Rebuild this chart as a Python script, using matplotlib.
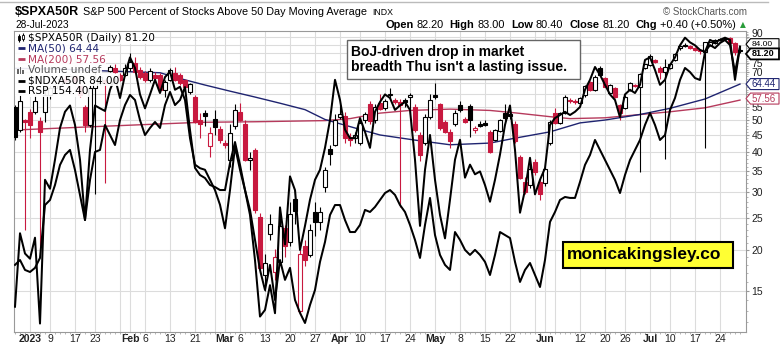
import pandas as pd
import matplotlib
matplotlib.use('Agg')
from matplotlib import pyplot as plt
from matplotlib.patches import Rectangle, Polygon
import matplotlib.ticker as ticker

plt.rcParams['font.family'] = ['Liberation Sans', 'DejaVu Sans']

W, H = 783, 347
RED = '#c8193f'
NAVY = '#1f2470'
MAROON = '#b63a5c'
GRID = '#dcdcdc'

# trading days 28-Dec-2022 .. 28-Jul-2023
holidays = ['2023-01-02', '2023-01-16', '2023-02-20', '2023-04-07',
            '2023-05-29', '2023-06-19', '2023-07-04']

# $SPXA50R daily candles
spx_open = [55.0, 46.7, 50.0, 53.0, 53.0, 49.7, 53.0, 59.6, 62.5, 64.0, 67.0, 66.0, 68.0, 63.9, 55.0, 48.3, 62.6, 64.7, 66.4, 70.9, 72.0, 68.6, 68.6,
            72.0, 74.6, 71.2, 69.5, 66.4, 68.6, 68.6, 61.9, 66.4, 69.5, 68.6, 66.4, 61.0, 59.0, 50.0, 52.4, 41.5, 50.2, 46.9, 42.5,
            37.8, 47.8, 53.0, 48.5, 37.8, 40.5, 25.3, 16.8, 22.3, 17.1, 18.4, 23.3, 21.1, 28.6, 13.0, 20.6, 19.3, 26.2, 24.3, 31.2,
            40.7, 42.0, 51.2, 51.5, 44.5, 44.0, 42.5, 50.0, 56.0, 50.0, 56.5, 54.3, 59.6, 57.6, 56.8, 57.6, 58.8, 55.0, 45.0, 42.5,
            51.2, 59.6, 55.8, 49.4, 46.1, 48.6, 55.6, 50.3, 55.3, 46.5, 48.5, 48.9, 46.1, 43.5, 46.4, 52.4, 52.0, 48.5, 38.5, 32.3,
            31.6, 37.3, 32.3, 32.0, 42.5, 52.4, 48.9, 52.4, 57.6, 57.3, 56.3, 59.6, 65.5, 61.9, 72.0, 67.1, 60.4, 62.6, 55.6, 54.3,
            61.9, 63.5, 63.2, 72.0, 73.7, 76.4, 72.4, 70.3, 72.0, 76.4, 83.0, 85.0, 84.0, 83.0, 82.0, 81.0, 85.0, 86.0, 88.5, 88.5,
            89.4, 86.0, 82.2]
spx_high = [55.5, 59.6, 50.5, 54.0, 59.6, 51.0, 63.0, 64.0, 65.0, 68.0, 68.5, 69.0, 68.5, 65.0, 55.6, 64.0, 70.0, 69.0, 67.0, 73.5, 74.5, 69.5, 74.0,
            80.0, 78.0, 72.5, 70.5, 72.0, 70.0, 69.5, 66.5, 72.0, 72.5, 69.5, 67.0, 65.0, 59.5, 52.5, 53.7, 47.5, 53.5, 48.0, 43.5,
            48.5, 56.0, 56.5, 50.0, 40.0, 41.0, 26.0, 19.5, 25.8, 20.1, 26.0, 23.8, 28.0, 30.5, 20.0, 21.5, 24.0, 28.0, 27.0, 36.0,
            42.0, 52.0, 55.5, 53.0, 45.5, 46.0, 50.0, 53.0, 57.0, 56.0, 60.0, 58.0, 62.5, 58.5, 58.0, 58.5, 60.5, 56.0, 46.0, 52.0,
            60.0, 64.9, 56.5, 50.0, 47.0, 53.5, 57.0, 51.0, 55.8, 48.0, 49.5, 50.0, 46.5, 47.0, 50.5, 56.0, 53.0, 49.5, 39.0, 33.5,
            37.0, 38.0, 33.0, 36.0, 50.0, 54.3, 53.0, 59.5, 58.5, 58.0, 59.0, 64.0, 66.0, 68.5, 73.0, 67.5, 64.5, 63.0, 56.0, 59.5,
            65.5, 64.5, 69.5, 74.5, 79.6, 77.0, 73.0, 77.0, 74.5, 80.0, 84.5, 86.0, 85.0, 83.5, 82.5, 87.0, 87.0, 88.5, 89.0, 89.5,
            89.8, 87.0, 83.0]
spx_low = [43.5, 46.0, 23.0, 44.0, 52.0, 19.5, 49.4, 58.0, 61.0, 63.0, 65.0, 65.5, 64.5, 59.0, 46.0, 47.5, 29.7, 64.0, 32.0, 70.0, 69.5, 66.0, 68.0,
           70.5, 70.0, 67.0, 65.5, 65.5, 66.5, 61.5, 59.0, 66.0, 66.0, 64.0, 62.5, 60.0, 49.0, 44.0, 48.0, 38.5, 45.0, 42.5, 41.0,
           36.0, 47.0, 49.5, 37.5, 35.2, 26.0, 17.0, 15.0, 21.5, 16.2, 18.0, 19.0, 20.5, 24.0, 12.7, 17.8, 19.0, 22.0, 23.0, 30.0,
           36.5, 41.5, 50.5, 42.5, 41.5, 42.5, 42.0, 49.0, 48.5, 49.0, 53.5, 53.5, 58.0, 56.0, 27.0, 55.0, 52.0, 46.0, 37.5, 42.0,
           50.5, 58.0, 46.5, 45.5, 41.0, 48.0, 53.0, 49.0, 44.4, 45.5, 47.5, 48.0, 39.5, 43.0, 46.0, 50.0, 50.5, 42.5, 33.0, 29.7,
           31.0, 34.0, 28.5, 31.5, 42.0, 48.5, 48.5, 52.0, 56.5, 56.0, 56.0, 59.0, 61.5, 61.5, 68.0, 63.0, 60.0, 58.5, 50.0, 54.0,
           61.5, 63.0, 34.6, 71.5, 73.0, 75.0, 67.0, 38.0, 71.5, 76.0, 82.0, 83.5, 82.5, 81.5, 79.6, 41.0, 84.5, 85.5, 87.5, 88.0,
           85.5, 79.0, 80.4]
spx_close = [44.5, 57.0, 49.4, 48.3, 57.0, 46.1, 59.6, 62.5, 64.0, 67.0, 66.0, 68.0, 66.0, 59.6, 48.3, 62.6, 66.4, 67.7, 64.7, 72.9, 70.3, 66.4, 72.0,
             75.5, 70.3, 67.7, 66.4, 70.9, 67.1, 61.9, 65.5, 71.2, 66.4, 64.7, 63.2, 64.5, 49.4, 48.5, 51.3, 45.6, 47.6, 43.5, 42.0,
             45.6, 53.7, 50.0, 37.8, 38.3, 26.5, 17.6, 18.2, 24.0, 19.0, 23.7, 20.5, 25.8, 26.4, 19.5, 18.6, 23.0, 24.4, 26.1, 35.2,
             39.4, 50.0, 52.0, 44.0, 43.5, 45.0, 49.0, 52.0, 49.5, 55.0, 54.0, 57.2, 60.0, 56.8, 55.5, 56.8, 59.8, 46.7, 39.0, 51.2,
             57.7, 58.8, 47.2, 46.1, 43.0, 52.7, 53.5, 49.4, 50.0, 47.2, 48.1, 48.4, 40.0, 46.7, 50.0, 50.6, 51.3, 43.0, 33.2, 30.1,
             35.4, 34.6, 29.7, 35.4, 49.4, 48.9, 52.4, 58.8, 57.0, 56.8, 58.6, 63.5, 61.9, 67.9, 68.5, 63.2, 63.9, 58.8, 52.4, 58.8,
             64.7, 63.9, 69.1, 74.2, 78.3, 75.5, 70.3, 72.9, 74.2, 79.6, 84.0, 84.0, 83.0, 82.0, 81.1, 86.5, 86.6, 88.0, 88.0, 89.2,
             86.0, 80.8, 81.2]

# $NDXA50R close (same scale)
ndx_close = [13.4, 22.5, 19.5, 18.8, 21.8, 11.9, 32.8, 30.8, 37.8, 47.3, 53.0, 55.4, 48.3, 37.8, 24.7, 40.5, 55.4, 54.3, 53.3, 61.9, 67.3, 58.4, 68.8,
             77.8, 72.2, 59.9, 54.3, 59.9, 66.4, 60.5, 67.7, 70.3, 61.9, 63.2, 57.6, 44.0, 36.5, 35.6, 35.2, 32.8, 30.5, 27.5, 23.3,
             30.5, 41.4, 35.2, 30.5, 25.6, 18.6, 12.5, 13.1, 15.6, 12.8, 27.0, 20.8, 33.6, 30.5, 20.0, 23.7, 28.5, 32.8, 35.2, 41.1,
             50.0, 66.4, 57.6, 46.7, 44.0, 44.0, 50.7, 46.0, 41.1, 53.0, 56.8, 59.9, 58.4, 53.7, 55.4, 56.8, 53.7, 37.8, 23.7, 35.2,
             45.0, 32.8, 25.6, 21.7, 28.5, 37.8, 43.5, 33.3, 36.5, 34.1, 34.8, 31.6, 28.1, 32.8, 39.2, 48.3, 55.4, 40.5, 26.0, 30.5,
             38.3, 29.6, 32.8, 35.6, 48.3, 50.7, 51.8, 53.0, 51.8, 53.0, 54.8, 61.9, 66.4, 72.7, 68.8, 64.1, 59.9, 57.6, 51.0, 59.9,
             61.9, 60.5, 64.1, 76.4, 77.8, 71.2, 64.1, 66.4, 73.7, 77.8, 84.7, 89.4, 86.5, 84.7, 82.0, 80.9, 88.0, 86.5, 88.0, 89.4,
             88.0, 66.4, 84.0]

# RSP close (own overlay scale)
rsp_close = [140.63, 140.94, 140.31, 140.18, 140.44, 141.07, 144.42, 144.74, 145.69, 146.96, 147.59, 147.91, 146.64, 145.06, 143.47, 146.01, 147.78, 147.91, 149.49, 148.85, 148.22, 149.80, 150.75,
             151.39, 151.07, 149.80, 148.85, 149.30, 149.68, 149.30, 150.75, 151.58, 150.75, 151.07, 151.89, 149.17, 146.77, 146.32, 146.13, 145.69, 145.56, 145.37, 145.37,
             147.08, 148.41, 146.96, 145.37, 144.11, 142.21, 140.31, 139.04, 140.63, 138.41, 140.94, 139.68, 140.44, 138.41, 137.59, 136.95, 138.09, 139.04, 140.82, 142.08,
             143.79, 144.42, 144.42, 143.47, 142.71, 142.71, 143.16, 144.11, 143.98, 144.30, 144.74, 145.18, 145.37, 145.06, 144.42, 143.98, 143.16, 142.21, 141.07, 143.16,
             144.87, 142.52, 141.26, 140.63, 140.31, 142.71, 142.21, 141.58, 141.26, 141.58, 141.26, 140.82, 139.99, 141.26, 142.71, 142.52, 142.33, 140.82, 139.55, 140.31,
             140.75, 139.99, 139.23, 140.94, 143.35, 143.98, 144.74, 144.93, 144.87, 144.87, 145.88, 146.96, 147.59, 148.54, 147.91, 147.27, 146.64, 146.01, 145.18, 146.32,
             147.27, 147.91, 148.54, 149.49, 150.25, 149.49, 148.54, 148.85, 150.44, 151.20, 152.34, 153.10, 152.84, 152.46, 152.34, 154.11, 154.55, 154.36, 154.68, 154.87,
             154.55, 152.84, 154.40]

# moving averages (day number from 28-Dec)
ma50_day = [0, 10, 17, 29, 33, 38, 43, 48, 53, 58, 62, 65, 69, 73, 80, 87, 95, 100, 107, 113, 118, 125, 131, 138, 145]
ma50 = [72.0, 71.5, 70.8, 69.8, 67.0, 64.0, 61.3, 58.8, 56.3, 53.8, 50.2, 48.7, 46.8, 45.0, 43.4, 42.0, 42.5, 44.0,
        46.0, 49.0, 50.0, 52.0, 54.3, 58.0, 64.44]
ma200_day = [0, 17, 37, 48, 55, 62, 67, 73, 79, 87, 95, 100, 107, 111, 118, 124, 131, 138, 145]
ma200 = [46.6, 47.8, 49.2, 49.4, 49.6, 49.8, 50.5, 52.5, 53.5, 54.0, 53.5, 52.6, 51.2, 50.5, 50.8, 51.8, 53.0,
         54.5, 57.56]

tick_dates = ['2023-01-03', '2023-01-09', '2023-01-17', '2023-01-23', '2023-02-01', '2023-02-06', '2023-02-13',
              '2023-02-21', '2023-03-01', '2023-03-06', '2023-03-13', '2023-03-20', '2023-03-27', '2023-04-03',
              '2023-04-10', '2023-04-17', '2023-04-24', '2023-05-01', '2023-05-08', '2023-05-15', '2023-05-22',
              '2023-06-01', '2023-06-12', '2023-06-20', '2023-06-26', '2023-07-03', '2023-07-10', '2023-07-17',
              '2023-07-24']
tick_text = ['2023', '9', '17', '23', 'Feb', '6', '13', '21', 'Mar', '6', '13', '20', '27', 'Apr', '10', '17', '24',
             'May', '8', '15', '22', 'Jun', '12', '20', '26', 'Jul', '10', '17', '24']
extra_grid_dates = ['2023-01-30', '2023-02-27', '2023-05-30', '2023-06-05']
y_grid = [15, 20, 25, 30, 35, 40, 45, 50, 55, 60, 65, 70, 75, 80, 85, 90]
y_labels = [15, 20, 25, 30, 35, 40, 45, 50, 55, 70, 75]   # 90 is written by hand, the rest sit under the tags

days = pd.bdate_range('2022-12-28', '2023-07-28')
days = days[~days.isin(pd.to_datetime(holidays))]
x = list(range(len(days)))

fig = plt.figure(figsize=(W / 100, H / 100), dpi=100)
ax = fig.add_axes([14 / W, (H - 332) / H, 732 / W, 301 / H])
ax.set_yscale('log')
ax.set_xlim(-0.2, 146.2)
ax.set_ylim(11.21, 93.7)

# grid
for v in y_grid:
    ax.axhline(v, color=GRID, lw=0.8, zorder=0)
for d in tick_dates + extra_grid_dates:
    ax.axvline(days.get_loc(pd.Timestamp(d)), color=GRID, lw=0.8, zorder=0)

# moving averages
ax.plot(ma200_day, ma200, color=MAROON, lw=1.0, zorder=2)
ax.plot(ma50_day, ma50, color=NAVY, lw=1.0, zorder=2)

# candles: black/red vs previous close, hollow when close > open
for k in x:
    o, h, l, c = spx_open[k], spx_high[k], spx_low[k], spx_close[k]
    col = 'black' if (k == 0 or c >= spx_close[k - 1]) else RED
    ax.vlines(k, l, h, color=col, lw=0.8, zorder=2.5)
    lo, hi = min(o, c), max(o, c)
    ax.bar(k, hi - lo, bottom=lo, width=0.75, facecolor='white' if c > o else col,
           edgecolor=col, lw=0.8, zorder=3)

ax.plot(x, ndx_close, color='black', lw=1.45, zorder=4)

ax2 = ax.twinx()
ax2.set_ylim(136.38, 155.44)
ax2.plot(x, rsp_close, color='black', lw=1.45)
ax2.set_yticks([])
for s in ax2.spines.values():
    s.set_visible(False)

# axes styling
ax.yaxis.tick_right()
ax.set_yticks(y_grid)
ax.set_yticklabels([str(v) if v in y_labels else '' for v in y_grid])
ax.yaxis.set_minor_locator(ticker.FixedLocator(list(range(12, 94))))
ax.yaxis.set_minor_formatter(ticker.NullFormatter())
ax.tick_params(axis='y', which='major', length=2, color='#999', labelsize=7.5, labelcolor='#222', pad=2)
ax.tick_params(axis='y', which='minor', length=1.2, color='#aaa')
ax.set_xticks([days.get_loc(pd.Timestamp(d)) for d in tick_dates])
ax.set_xticklabels(tick_text)
ax.xaxis.set_minor_locator(ticker.FixedLocator(x))
ax.tick_params(axis='x', which='major', length=0, labelsize=7.5, labelcolor='#222', pad=1.5)
ax.tick_params(axis='x', which='minor', length=1.5, color='#aaa')
bold_labels = {'2023', 'Feb', 'Mar', 'Apr', 'May', 'Jun', 'Jul'}
for lbl, t in zip(ax.get_xticklabels(), tick_text):
    if t in bold_labels:
        lbl.set_fontweight('bold')
for s in ax.spines.values():
    s.set_color('#999')
    s.set_linewidth(0.8)


def ypix(v):
    return H - ax.transData.transform((0, v))[1]


# overlay in pixel coordinates
ov = fig.add_axes([0, 0, 1, 1])
ov.set_xlim(0, W)
ov.set_ylim(H, 0)
ov.axis('off')
renderer = fig.canvas.get_renderer()

ov.plot([0, 768], [1.5, 1.5], color='#bbbbbb', lw=1)
ov.text(15, 11.5, '$SPXA50R', fontsize=9, fontweight='bold', va='center', parse_math=False)
ov.text(83, 12, 'S&P 500 Percent of Stocks Above 50 Day Moving Average', fontsize=7.8, va='center')
ov.text(372, 12.5, 'INDX', fontsize=6.3, va='center')
ov.text(15, 24.5, '28-Jul-2023', fontsize=7.3, va='center')
ov.text(747, 11.5, '\u00a9 StockCharts.com', fontsize=7, color='#555555', ha='right', va='center')

# OHLC line, laid out right to left so it ends before the arrow
ohlc = [('Open', True), ('82.20', False), ('High', True), ('83.00', False), ('Low', True), ('80.40', False),
        ('Close', True), ('81.20', False), ('Chg', True), ('+0.40 (+0.50%)', False)]
items = []
for t, b in ohlc:
    txt = ov.text(0, 25, t, fontsize=7.9, fontweight='bold' if b else 'normal', va='center')
    items.append((txt, b, txt.get_window_extent(renderer).width))
total = sum(w for _, _, w in items) + sum(3 if b else 6 for _, b, _ in items[:-1])
px = 736 - total
for txt, b, w in items:
    txt.set_x(px)
    px += w + (3 if b else 6)
ov.text(739.5, 24.5, '\u25b2', fontsize=5.5, color='#2a9d3a', va='center', family='DejaVu Sans')

# top axis label, nudged up a little so the 84.00 tag fits below it
ov.text(751.6, ypix(90) - 3, '90', fontsize=7.5, color='#222222', va='center')

# legend
ov.add_patch(Rectangle((15, 32), 12, 64, facecolor='white', edgecolor='none', alpha=0.9, zorder=1))
rows = [('$SPXA50R (Daily) 81.20', 'black'), ('MA(50) 64.44', NAVY), ('MA(200) 57.56', MAROON),
        ('Volume undef', '#555555'), ('$NDXA50R 84.00', 'black'), ('RSP 154.40', 'black')]
for k, (t, col) in enumerate(rows):
    yy = 37.7 + 10.7 * k
    ov.text(27.5, yy, t, fontsize=7.6, color=col, va='center', family='DejaVu Sans', parse_math=False,
            bbox=dict(facecolor='white', edgecolor='none', alpha=0.9, pad=0.6), zorder=2)
    if k in (1, 2, 4, 5):
        ov.plot([17.5, 25], [yy, yy], color=col, lw=2, solid_capstyle='butt', zorder=3)
ov.vlines([18.5, 22.5], [33.5, 33], [41.5, 41], color='black', lw=0.8, zorder=3)
ov.add_patch(Rectangle((17.5, 35.5), 2, 4, facecolor='black', edgecolor='black', lw=0.6, zorder=3))
ov.add_patch(Rectangle((21.5, 35), 2, 4, facecolor='white', edgecolor='black', lw=0.6, zorder=3))
for bx, bh in [(18, 5), (20.5, 7), (23, 4)]:
    ov.add_patch(Rectangle((bx - 0.8, 73.5 - bh), 1.6, bh, facecolor='#666666', edgecolor='none', zorder=3))

# right value tags (84.00 sits partly behind the 81.20 tag)
tags = [(84.00, '84.00', 'black', 'normal', -2.3, 0.8, 4, 6.0),
        (81.20, '81.20', 'black', 'bold', 2.6, 1.3, 6, 6.5),
        (64.44, '64.44', NAVY, 'normal', 0.0, 0.8, 4, 7.0),
        (57.56, '57.56', MAROON, 'normal', -1.5, 0.8, 4, 7.0)]
for v, t, col, fw, dy, lw, z, fs in tags:
    yc = ypix(v) + dy
    ov.add_patch(Polygon([(746, yc), (750.5, yc - 5.5), (779, yc - 5.5), (779, yc + 5.5), (750.5, yc + 5.5)],
                         closed=True, facecolor='white', edgecolor=col, lw=lw, zorder=z))
    ov.text(751.5, yc, t, fontsize=fs, color=col, fontweight=fw, va='center', zorder=z + 0.5)

# comment box
ov.add_patch(Rectangle((346.5, 39.5), 233.5, 39.5, facecolor='white', edgecolor='#666666', lw=1, zorder=4))
ov.text(351, 52, 'BoJ-driven drop in market', fontsize=10, fontweight='bold', va='center', zorder=5)
ov.text(351, 67, "breadth Thu isn't a lasting issue.", fontsize=10, fontweight='bold', va='center', zorder=5)

# site box
ov.add_patch(Rectangle((562.5, 241.5), 170.5, 26, facecolor='#ffff33', edgecolor='black', lw=1.5, zorder=4))
ov.text(567, 254.5, 'monicakingsley.co', fontsize=12.5, fontweight='bold', va='center', zorder=5)

fig.savefig('out.png', dpi=100)
plt.close(fig)
